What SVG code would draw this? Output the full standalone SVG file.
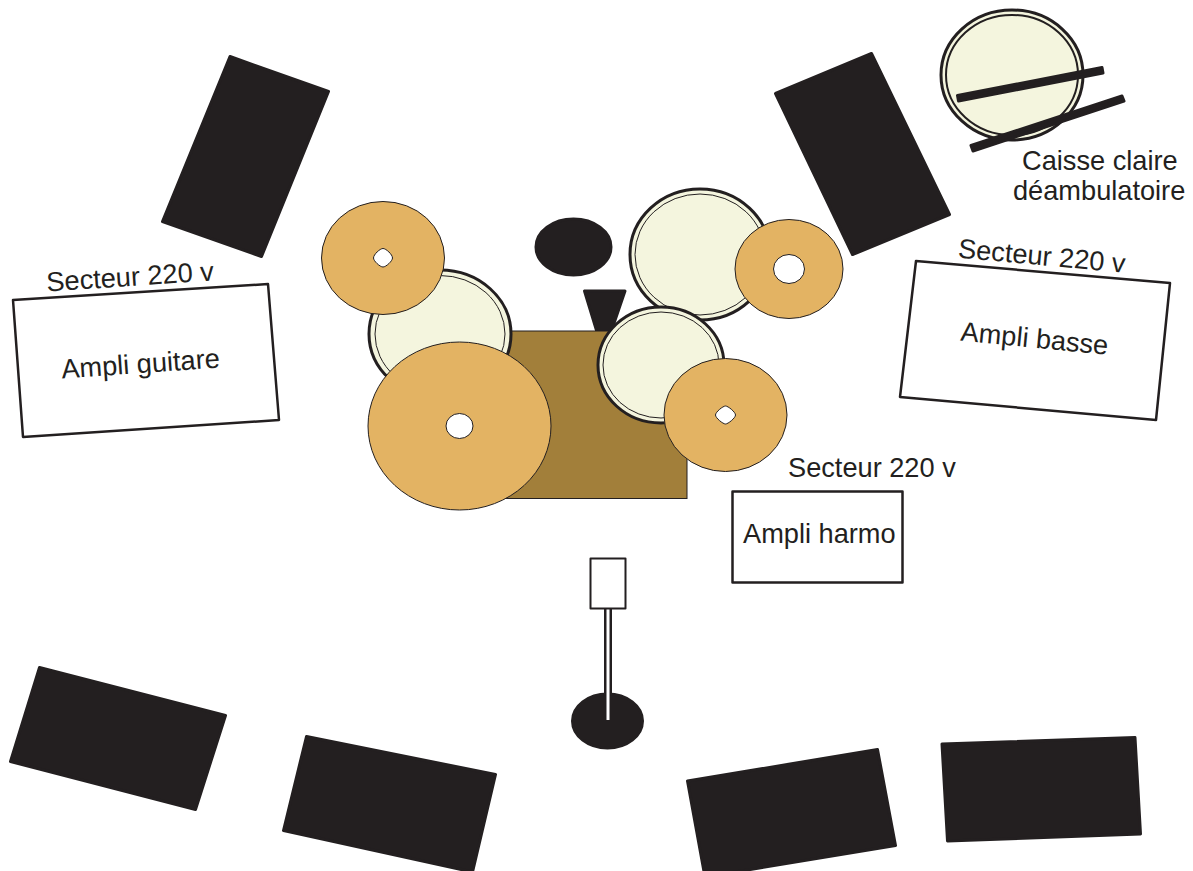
<svg xmlns="http://www.w3.org/2000/svg" width="1193" height="871" viewBox="0 0 1193 871">
<style>
.blk{fill:#231f20;stroke:#231f20;stroke-width:3;stroke-linejoin:round}
.amp{fill:#fff;stroke:#231f20;stroke-width:2.500;stroke-linejoin:round}
.cym{fill:#e3b363;stroke:#231f20;stroke-width:1}
.hole{fill:#fff;stroke:#231f20;stroke-width:1}
.rim{fill:#f4f5de;stroke:#231f20;stroke-width:3}
.head{fill:#f4f5de;stroke:#231f20;stroke-width:1}
text{font-family:"Liberation Sans",Arial,sans-serif;font-size:27.200px;fill:#231f20}
</style>
<rect width="1193" height="871" fill="#fff"/>
<g id="wedge-a"><polygon class="blk" points="230,56.500 328.500,91.500 261.500,256.500 162.500,221.500"/></g>
<g id="wedge-b"><polygon class="blk" points="871.500,53.500 949.500,214.500 852.500,254.500 775.500,93.500"/></g>
<g id="wedge-c"><polygon class="blk" points="39.500,667.500 225.500,715.500 195.500,809.500 10.500,761.500"/></g>
<g id="wedge-d"><polygon class="blk" points="306.500,736.500 495.500,774.500 472.500,872 283.500,830.500"/></g>
<g id="wedge-e"><polygon class="blk" points="687.500,781 877.500,749.500 895.500,845.500 705,877"/></g>
<g id="wedge-f"><polygon class="blk" points="942,744 1135,737.500 1140.500,834 947.500,841"/></g>
<g id="ampli-guitare">
<polygon class="amp" points="13,300 268,284 279,420 23,437"/>
<text transform="translate(62,378.500) rotate(-4)">Ampli guitare</text>
<text transform="translate(47,291.500) rotate(-3.800)">Secteur 220 v</text>
</g>
<g id="ampli-basse">
<polygon class="amp" points="916,261 1170,283 1156,420 900,397"/>
<text transform="translate(960,340.500) rotate(5.500)">Ampli basse</text>
<text transform="translate(957.500,257.500) rotate(5.200)">Secteur 220 v</text>
</g>
<g id="ampli-harmo">
<rect class="amp" x="732.500" y="491.500" width="170" height="91"/>
<text x="743" y="543">Ampli harmo</text>
<text x="788" y="477">Secteur 220 v</text>
</g>
<g id="siege"><ellipse class="blk" cx="573.500" cy="247" rx="37.500" ry="28"/></g>
<g id="batterie">
<polygon class="blk" points="584.500,291 625,291 611,332 597,332"/>
<rect x="500" y="331" width="187" height="167.500" fill="#a27f3a" stroke="#231f20" stroke-width="1"/>
<ellipse class="rim" cx="440" cy="334" rx="71" ry="64"/>
<ellipse class="head" cx="440" cy="334" rx="65" ry="58.500"/>
<ellipse class="cym" cx="383" cy="258" rx="61.500" ry="56.500"/>
<path class="hole" d="M383,248.500C386,248.500 392.500,254.500 392.500,258C392.500,261 386,267 383,267C380,267 373.500,261 373.500,258C373.500,254.500 380,248.500 383,248.500Z"/>
<ellipse class="cym" cx="459.500" cy="426" rx="91.500" ry="84"/>
<ellipse class="hole" cx="459.500" cy="426" rx="13.500" ry="12.500"/>
<ellipse class="rim" cx="700" cy="254.500" rx="70" ry="65.500"/>
<ellipse class="head" cx="700" cy="254.500" rx="65" ry="60.500"/>
<ellipse class="cym" cx="789" cy="269" rx="54" ry="49.500"/>
<ellipse class="hole" cx="789" cy="269" rx="15.500" ry="14.500"/>
<ellipse class="rim" cx="661" cy="365" rx="63" ry="58"/>
<ellipse class="head" cx="661" cy="365" rx="58" ry="53"/>
<ellipse class="cym" cx="725.500" cy="415" rx="61.500" ry="56.500"/>
<path class="hole" d="M725.500,406C728,406 735.500,412 735.500,415C735.500,418 728,424 725.500,424C723,424 715.500,418 715.500,415C715.500,412 723,406 725.500,406Z"/>
</g>
<g id="micro">
<rect x="604" y="608" width="8" height="112" fill="#231f20"/>
<ellipse class="blk" cx="607.500" cy="721" rx="35" ry="27"/>
<rect x="606.500" y="608" width="3" height="112" fill="#fff"/>
<rect class="amp" x="590.500" y="558.500" width="35" height="50" style="stroke-width:2"/>
</g>
<g id="caisse-claire">
<ellipse class="rim" cx="1012" cy="75" rx="71" ry="65"/>
<ellipse class="head" cx="1012" cy="75" rx="66" ry="60" style="stroke-width:2"/>
<polygon class="blk" points="957.500,95.500 1102,67.500 1103,73 958.500,101"/>
<polygon class="blk" points="971,145.500 1122,96 1124,101 973,151"/>
<text x="1022" y="170">Caisse claire</text>
<text x="1013" y="200">déambulatoire</text>
</g>
</svg>
